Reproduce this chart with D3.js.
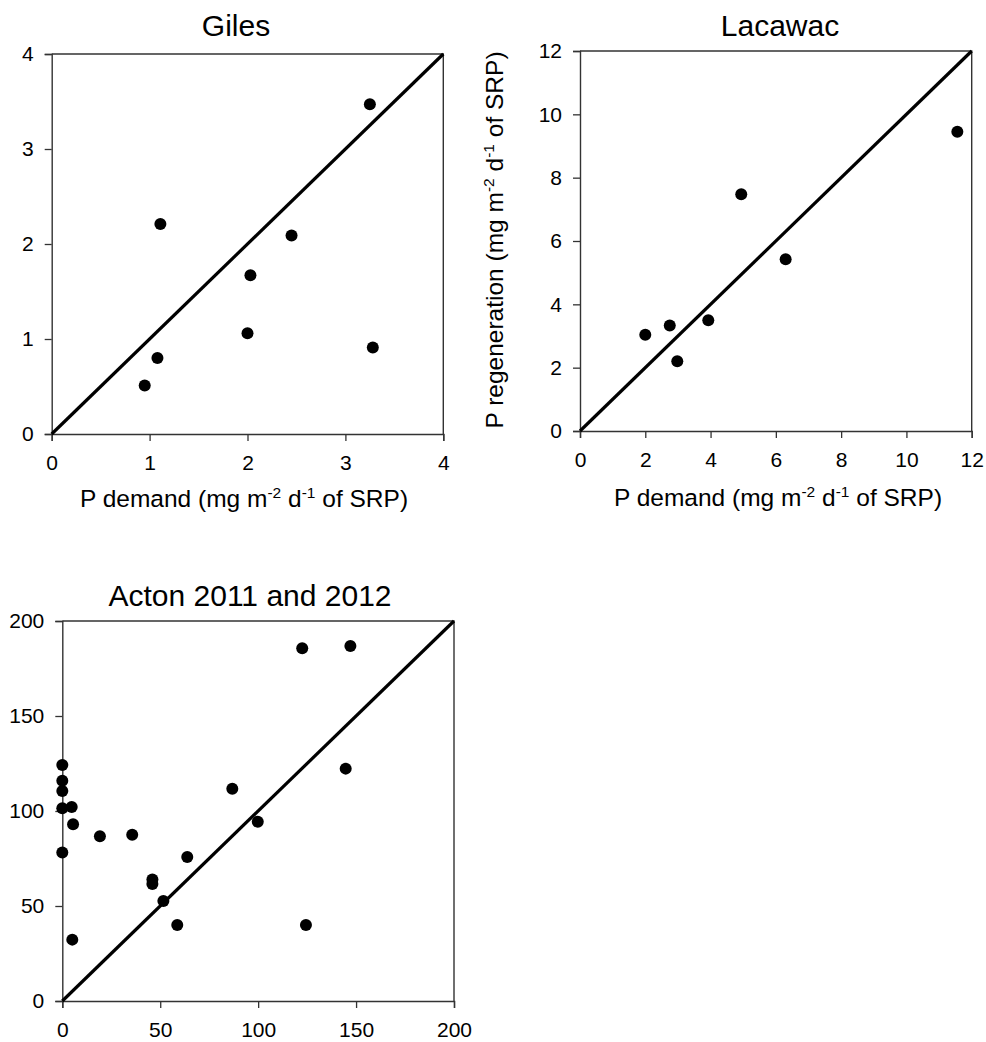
<!DOCTYPE html>
<html>
<head>
<meta charset="utf-8">
<script src="https://cdn.jsdelivr.net/npm/d3@7"></script>
<style>
  html, body { margin: 0; padding: 0; background: #fff; }
  svg { display: block; }
  text { font-family: "Liberation Sans", Arial, Helvetica, sans-serif; fill: #000; }
</style>
</head>
<body>
<svg id="chart" width="986" height="1042"></svg>
<script>
// ---- Data ----
const gilesDemand = [3.25, 1.11, 2.45, 2.03, 2.00, 3.28, 1.08, 0.95];
const gilesRegen  = [3.47, 2.21, 2.09, 1.67, 1.06, 0.91, 0.80, 0.51];
const gilesTicks  = [0, 1, 2, 3, 4];

const lacawacDemand = [11.56, 4.94, 6.30, 3.93, 2.75, 2.00, 2.98];
const lacawacRegen  = [9.45, 7.48, 5.42, 3.50, 3.33, 3.04, 2.20];
const lacawacTicks  = [0, 2, 4, 6, 8, 10, 12];

const actonDemand = [122.5, 147.1, 0, 0, 0, 0, 4.8, 5.5, 0, 19.2, 35.7, 86.8, 99.8, 144.7, 63.8, 46.0, 46.0, 51.6, 58.7, 124.4, 5.1];
const actonRegen  = [185.6, 186.8, 124.2, 115.9, 110.5, 101.4, 102.1, 93.0, 78.1, 86.7, 87.5, 111.7, 94.4, 122.3, 75.8, 64.0, 61.6, 52.6, 40.0, 40.0, 32.3];
const actonTicks  = [0, 50, 100, 150, 200];

const titles = ["Giles", "Lacawac", "Acton 2011 and 2012"];

const svg = d3.select("#chart");

function addLabel(g, x, y, rotate, mainA) {
  const t = g.append("text")
    .attr("text-anchor", "middle")
    .attr("font-size", 24.5)
    .attr("transform", `translate(${x},${y})` + (rotate ? " rotate(-90)" : ""));
  t.append("tspan").text(mainA + " (mg m");
  t.append("tspan").text("-2").attr("font-size", 15.5).attr("dy", -9);
  t.append("tspan").text(" d").attr("dy", 9);
  t.append("tspan").text("-1").attr("font-size", 15.5).attr("dy", -9);
  t.append("tspan").text(" of SRP)").attr("dy", 9);
}

function panel(cfg) {
  const { x0, x1, y0, y1, max, ticks, xs, ys, title, titleX, titleY } = cfg;
  const x = d3.scaleLinear().domain([0, max]).range([x0, x1]);
  const y = d3.scaleLinear().domain([0, max]).range([y0, y1]);
  const g = svg.append("g");

  // frame (top & right)
  g.append("path")
    .attr("d", `M${x0},${y1}H${x1}V${y0}`)
    .attr("fill", "none").attr("stroke", "#333").attr("stroke-width", 1.4);

  const xAxis = g.append("g").attr("transform", `translate(0,${y0})`)
    .call(d3.axisBottom(x).tickValues(ticks).tickSize(7).tickPadding(14).tickFormat(d3.format("d")));
  const yAxis = g.append("g").attr("transform", `translate(${x0},0)`)
    .call(d3.axisLeft(y).tickValues(ticks).tickSize(7).tickPadding(11).tickFormat(d3.format("d")));
  [xAxis, yAxis].forEach(a => {
    a.select(".domain").attr("stroke", "#333").attr("stroke-width", 1.4);
    a.selectAll(".tick line").attr("stroke", "#333").attr("stroke-width", 1.3);
    a.selectAll(".tick text").attr("font-size", 21).attr("fill", "#000")
      .attr("font-family", '"Liberation Sans", Arial, sans-serif');
  });

  // 1:1 line
  g.append("line")
    .attr("x1", x(0)).attr("y1", y(0)).attr("x2", x(max)).attr("y2", y(max))
    .attr("stroke", "#000").attr("stroke-width", 3.2);

  // points
  g.selectAll("circle").data(xs.map((v, i) => [v, ys[i]])).join("circle")
    .attr("cx", d => x(d[0])).attr("cy", d => y(d[1])).attr("r", 6).attr("fill", "#000");

  // title
  g.append("text").attr("x", titleX).attr("y", titleY).attr("text-anchor", "middle")
    .attr("font-size", 30).text(title);
  return g;
}

const gG = panel({ x0: 51.7, x1: 443.3, y0: 434, y1: 54, max: 4, ticks: gilesTicks,
  xs: gilesDemand, ys: gilesRegen, title: titles[0], titleX: 236, titleY: 36 });
addLabel(gG, 244, 507, false, "P demand");

const gL = panel({ x0: 580, x1: 971.7, y0: 431, y1: 51, max: 12, ticks: lacawacTicks,
  xs: lacawacDemand, ys: lacawacRegen, title: titles[1], titleX: 780, titleY: 36 });
addLabel(gL, 778, 506, false, "P demand");
addLabel(gL, 503, 240, true, "P regeneration");

panel({ x0: 62.3, x1: 454, y0: 1001, y1: 621, max: 200, ticks: actonTicks,
  xs: actonDemand, ys: actonRegen, title: titles[2], titleX: 250, titleY: 606 });
</script>
</body>
</html>
